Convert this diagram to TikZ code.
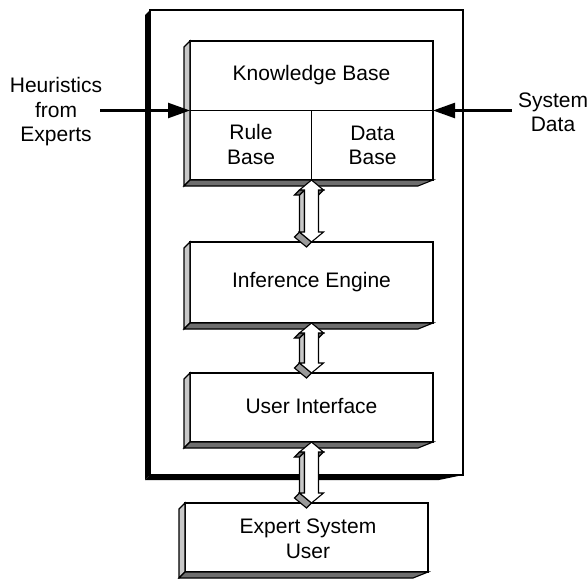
\documentclass[tikz,border=0pt]{standalone}
\usepackage{fontspec}
\setmainfont{Liberation Sans}
\usetikzlibrary{calc,arrows.meta}
\definecolor{facelight}{HTML}{C8C8C8}
\definecolor{facemid}{HTML}{9A9A9A}
\definecolor{facedark}{HTML}{6E6E6E}
\tikzset{
  txt/.style={font=\fontsize{21}{24.5}\selectfont, inner sep=0pt, outer sep=0pt, align=center},
  kbox/.style={draw=black, fill=white, line width=1.3pt, inner sep=0pt, outer sep=0pt},
  faceln/.style={draw=black, line width=1.1pt, line join=miter},
  inarrow/.style={line width=2.4pt, -{Triangle[length=22pt,width=15pt]}},
}
\newcommand\boxextrude[1]{%
  \filldraw[faceln, fill=facelight] (#1.north west) -- ++(-6,6) -- ($(#1.south west)+(-6,6)$) -- (#1.south west) -- cycle;
  \filldraw[faceln, fill=facedark] (#1.south west) -- ++(-6,6) -- ($(#1.south east)+(-15,6)$) -- (#1.south east) -- cycle;
}
\newcommand\dblarrow[2]{%
  \filldraw[faceln, fill=facedark] let \p1=(#1.south), \p2=(#2.north) in
    (\x1+12pt,\y1-10pt) -- (\x1+7pt,\y1-10pt) -- (\x1+2pt,\y1-15pt) -- (\x1+7pt,\y1-15pt) -- cycle;
  \filldraw[faceln, fill=facelight] let \p1=(#1.south), \p2=(#2.north) in
    (\x1-7pt,\y2+10pt) -- (\x1-7pt,\y1-10pt) -- (\x1-12pt,\y1-15pt) -- (\x1-12pt,\y2+5pt) -- cycle;
  \filldraw[faceln, fill=facedark] let \p1=(#1.south), \p2=(#2.north) in
    (\x1-7pt,\y1-10pt) -- (\x1-12pt,\y1-10pt) -- (\x1-17pt,\y1-15pt) -- (\x1-12pt,\y1-15pt) -- cycle;
  \filldraw[faceln, fill=facemid] let \p1=(#1.south), \p2=(#2.north) in
    (\x1,\y2) -- (\x1-12pt,\y2+10pt) -- (\x1-17pt,\y2+5pt) -- (\x1-5pt,\y2-5pt) -- cycle;
  \filldraw[faceln, fill=white] let \p1=(#1.south), \p2=(#2.north) in
    (\x1,\y1) -- (\x1+12pt,\y1-10pt) -- (\x1+7pt,\y1-10pt) -- (\x1+7pt,\y2+10pt) -- (\x1+12pt,\y2+10pt)
    -- (\x1,\y2) -- (\x1-12pt,\y2+10pt) -- (\x1-7pt,\y2+10pt) -- (\x1-7pt,\y1-10pt) -- (\x1-12pt,\y1-10pt) -- cycle;
}
\begin{document}
\begin{tikzpicture}[x=1pt,y=-1pt]
\useasboundingbox (0,0) rectangle (588,578);
% outer frame
\node[kbox, line width=1.5pt, minimum width=313pt, minimum height=465pt] (frame) at (306.5,242.5) {};
\fill[black] (frame.north west) -- ++(-5,5) -- ($(frame.south west)+(-5,5)$) -- (frame.south west) -- cycle;
\fill[black] (frame.south west) -- ++(-5,5) -- ($(frame.south east)+(-24,5)$) -- (frame.south east) -- cycle;
% boxes
\node[kbox, minimum width=243pt, minimum height=139pt] (kb) at (311.5,110.5) {};
\boxextrude{kb}
\draw[line width=1.3pt] (kb.west) -- (kb.east);
\coordinate (kbmid) at ($(kb.west)!0.5!(kb.east)$);
\draw[line width=1.3pt] (kbmid) -- (kbmid |- kb.south);
\node[txt] (kbt) at (311.5,75) {Knowledge Base};
\node[txt] (rb) at (251,144.5) {Rule\\Base};
\node[txt] (db) at (372.5,145.5) {Data\\Base};

\node[kbox, minimum width=243pt, minimum height=81pt] (ie) at (311.5,282.5) {};
\boxextrude{ie}
\node[txt] (iet) at (311.5,282) {Inference Engine};

\node[kbox, minimum width=243pt, minimum height=69pt] (ui) at (311.5,407.5) {};
\boxextrude{ui}
\node[txt] (uit) at (311.5,405.5) {User Interface};

\node[kbox, minimum width=243pt, minimum height=69pt] (esu) at (306.5,537.5) {};
\boxextrude{esu}
\node[txt] (esut) at (308,539) {Expert System\\User};

% double arrows
\dblarrow{kb}{ie}
\dblarrow{ie}{ui}
\dblarrow{ui}{esu}

% inputs
\node[txt] (heur) at (56,112) {Heuristics\\from\\Experts};
\node[txt] (sys) at (553,112.5) {System\\Data};
\coordinate (hin) at (100,110.5);
\coordinate (sin) at (512,110.5);
\draw[inarrow] (hin) -- (kb.west);
\draw[inarrow] (sin) -- (kb.east);
\end{tikzpicture}
\end{document}
